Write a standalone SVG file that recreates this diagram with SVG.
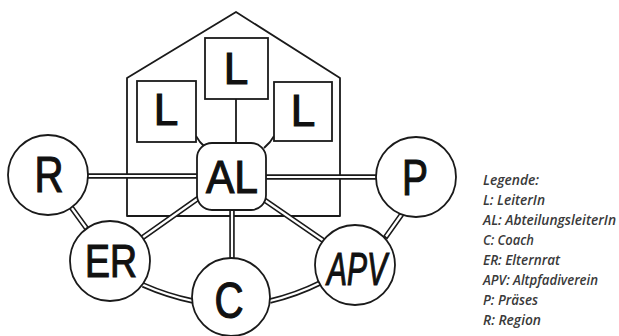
<svg xmlns="http://www.w3.org/2000/svg" width="619" height="336" viewBox="0 0 619 336">
<style>
.thin{fill:none;stroke:#1a1a1a;stroke-width:1.8;stroke-linejoin:round}
.box{fill:#fff;stroke:#1a1a1a;stroke-width:1.8}
.node{fill:#fff;stroke:#1a1a1a;stroke-width:1.8}
.dbo{fill:none;stroke:#1a1a1a;stroke-width:5.5;stroke-linecap:butt}
.dbi{fill:none;stroke:#fff;stroke-width:2.2;stroke-linecap:butt}
.lbl{font-family:"Liberation Sans",Arial,sans-serif;fill:#111;stroke:#111;stroke-width:1.2;text-anchor:middle}
.leg{font-family:"Open Sans","Liberation Sans",sans-serif;font-style:italic;font-weight:600;font-size:14px;fill:#3a3a3a}
</style>
<rect width="619" height="336" fill="#fff"/>
<g id="house">
<path class="thin" d="M127,216 L127,78 L236,12 L340,78 L340,216 Z"/>
</g>
<g id="connectors">
<line class="thin" x1="236" y1="99" x2="236" y2="144"/>
<polyline class="thin" points="196,136 200,142 205,147"/>
<polyline class="thin" points="274,136 270,142 264,148"/>
<path class="dbo" d="M88,176 L198,176 M266,177 L377,177 M71,207 L87,229 M142,238 L200,197 M263,199 L324,241 M232,209 L232,259 M143,285 Q168,296 193,301 M270,301 Q296,295 320,283 M385,238 L402,214"/>
<path class="dbi" d="M86,176 L200,176 M264,177 L379,177 M70,205.5 L88,230.5 M140.5,239 L201.5,196 M261.5,198 L325.5,242 M232,207 L232,261 M141,284 Q168,296 195,301.5 M268,301.5 Q296,295 322,282 M386,236.5 L403,212.5"/>
</g>
<g id="L1">
<rect class="box" x="137" y="81" width="59" height="61"/>
<text class="lbl" x="166" y="125" font-size="44">L</text>
</g>
<g id="L2">
<rect class="box" x="205" y="38" width="63" height="61"/>
<text class="lbl" x="236" y="84" font-size="44">L</text>
</g>
<g id="L3">
<rect class="box" x="274" y="82" width="58" height="59"/>
<text class="lbl" x="303" y="126" font-size="44">L</text>
</g>
<g id="AL">
<rect class="node" x="197" y="143" width="69" height="67" rx="15"/>
<text class="lbl" x="232" y="193" font-size="46" textLength="52" lengthAdjust="spacingAndGlyphs">AL</text>
</g>
<g id="R">
<circle class="node" cx="48" cy="175" r="40"/>
<text class="lbl" x="49" y="192" font-size="50" textLength="29" lengthAdjust="spacingAndGlyphs">R</text>
</g>
<g id="ER">
<circle class="node" cx="110" cy="261" r="40"/>
<text class="lbl" x="111" y="277" font-size="46" textLength="52" lengthAdjust="spacingAndGlyphs">ER</text>
</g>
<g id="C">
<circle class="node" cx="231" cy="297" r="39"/>
<text class="lbl" x="229" y="318" font-size="50" textLength="29" lengthAdjust="spacingAndGlyphs">C</text>
</g>
<g id="APV">
<circle class="node" cx="355" cy="265" r="40"/>
<text class="lbl" x="357" y="285" font-size="46" font-style="italic" textLength="60" lengthAdjust="spacingAndGlyphs">APV</text>
</g>
<g id="P">
<circle class="node" cx="416" cy="177" r="40"/>
<text class="lbl" x="415" y="195" font-size="50" textLength="26" lengthAdjust="spacingAndGlyphs">P</text>
</g>
<g id="legend">
<text class="leg" x="483" y="185" textLength="56" lengthAdjust="spacingAndGlyphs">Legende:</text>
<text class="leg" x="483" y="205" textLength="62" lengthAdjust="spacingAndGlyphs">L: LeiterIn</text>
<text class="leg" x="483" y="225" textLength="133" lengthAdjust="spacingAndGlyphs">AL: AbteilungsleiterIn</text>
<text class="leg" x="483" y="245" textLength="51" lengthAdjust="spacingAndGlyphs">C: Coach</text>
<text class="leg" x="483" y="265" textLength="77" lengthAdjust="spacingAndGlyphs">ER: Elternrat</text>
<text class="leg" x="483" y="285" textLength="115" lengthAdjust="spacingAndGlyphs">APV: Altpfadiverein</text>
<text class="leg" x="483" y="305" textLength="55" lengthAdjust="spacingAndGlyphs">P: Präses</text>
<text class="leg" x="483" y="325" textLength="58" lengthAdjust="spacingAndGlyphs">R: Region</text>
</g>
</svg>
